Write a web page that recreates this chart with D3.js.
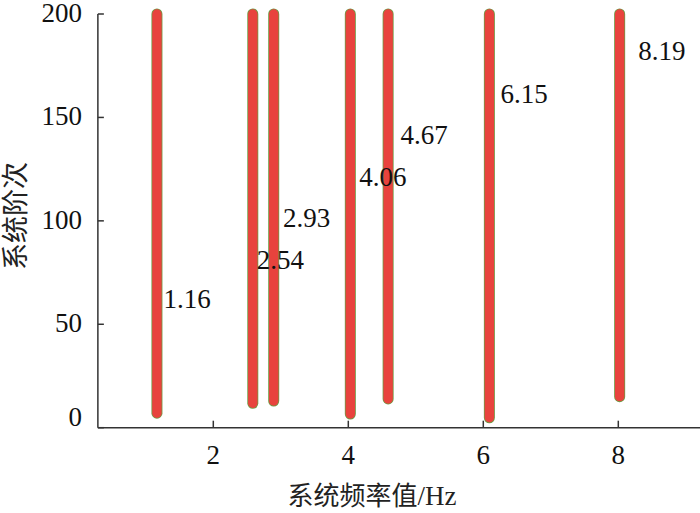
<!DOCTYPE html>
<html><head><meta charset="utf-8">
<script src="https://cdn.jsdelivr.net/npm/d3@7"></script>
<style>
body{margin:0;background:#fff}svg{display:block}
.sf{font-family:"Liberation Serif","Tinos","Times New Roman","DejaVu Serif",serif}
.cj{font-family:"Noto Sans CJK SC","Noto Sans CJK JP",sans-serif}
</style>
</head><body>
<svg id="c" width="700" height="513"></svg>
<script>
// data
const freqs = [1.165, 2.585, 2.895, 4.03, 4.59, 6.09, 8.02];       // cluster centre (Hz)
const orderMin = [7, 11.8, 12.9, 6.6, 13.9, 4.8, 15];              // lowest system order in cluster
const orderMax = [200, 200, 200, 200, 200, 200, 200];
const labelText = ["1.16", "2.54", "2.93", "4.06", "4.67", "6.15", "8.19"];
const labelFreq = [1.16, 2.54, 2.93, 4.06, 4.67, 6.15, 8.19];
const labelOrder = [62, 81, 101.5, 121, 141.5, 161.5, 182];
const xTicks = [2, 4, 6, 8];
const yTicks = [0, 50, 100, 150, 200];

const svg = d3.select("#c");
const x = d3.scaleLinear().domain([0, 9]).range([78.3, 78.3 + 67.5 * 9]);
const y = d3.scaleLinear().domain([0, 200]).range([427.7, 14]);
const x0 = 0.29, x1 = 9.3;

// axes
const gx = svg.append("g").attr("transform", `translate(0,${y(0)})`);
gx.append("line").attr("x1", x(x0)).attr("x2", x(x1)).attr("stroke", "#333").attr("stroke-width", 1.5);
gx.selectAll("line.t").data(xTicks).join("line").attr("class", "t")
  .attr("x1", d => x(d)).attr("x2", d => x(d)).attr("y1", 0).attr("y2", -7)
  .attr("stroke", "#333").attr("stroke-width", 1.5);
gx.selectAll("text").data(xTicks).join("text").attr("class", "sf")
  .attr("x", d => x(d)).attr("y", 36).attr("text-anchor", "middle")
  .attr("font-size", 27).attr("fill", "#111").text(d => d);

const gy = svg.append("g").attr("transform", `translate(${x(x0)},0)`);
gy.append("line").attr("y1", y(0)).attr("y2", y(200)).attr("stroke", "#333").attr("stroke-width", 1.5);
gy.selectAll("line.t").data(yTicks).join("line").attr("class", "t")
  .attr("y1", d => y(d)).attr("y2", d => y(d)).attr("x1", 0).attr("x2", 6)
  .attr("stroke", "#333").attr("stroke-width", 1.5);
gy.selectAll("text").data(yTicks).join("text").attr("class", "sf")
  .attr("x", -16).attr("y", d => y(d) + (d === 0 ? -2 : 8)).attr("text-anchor", "end")
  .attr("font-size", 27).attr("fill", "#111").text(d => d);

// clusters
const clusters = freqs.map((f, i) => ({f, lo: orderMin[i], hi: orderMax[i]}));
svg.append("g").selectAll("line").data(clusters).join("line")
  .attr("x1", d => x(d.f)).attr("x2", d => x(d.f)).attr("y1", d => y(d.lo)).attr("y2", d => y(d.hi))
  .attr("stroke", "#6f9a45").attr("stroke-width", 11).attr("stroke-linecap", "round");
svg.append("g").selectAll("line").data(clusters).join("line")
  .attr("x1", d => x(d.f)).attr("x2", d => x(d.f)).attr("y1", d => y(d.lo)).attr("y2", d => y(d.hi))
  .attr("stroke", "#e8433d").attr("stroke-width", 9.4).attr("stroke-linecap", "round");

// labels
svg.append("g").selectAll("text").data(labelText).join("text").attr("class", "sf")
  .attr("x", (d, i) => x(labelFreq[i]) + 7).attr("y", (d, i) => y(labelOrder[i]) + 9)
  .attr("font-size", 27).attr("fill", "#111").text(d => d);

// axis titles
const xt = svg.append("text").attr("x", 372).attr("y", 505).attr("text-anchor", "middle").attr("fill", "#222");
xt.append("tspan").attr("class", "cj").attr("font-size", 26).text("系统频率值");
xt.append("tspan").attr("class", "sf").attr("font-size", 27).text("/Hz");
svg.append("text").attr("class", "cj").attr("transform", "translate(25,216) rotate(-90)").attr("text-anchor", "middle")
  .attr("font-size", 27).attr("fill", "#222").text("系统阶次");
</script>
</body></html>
